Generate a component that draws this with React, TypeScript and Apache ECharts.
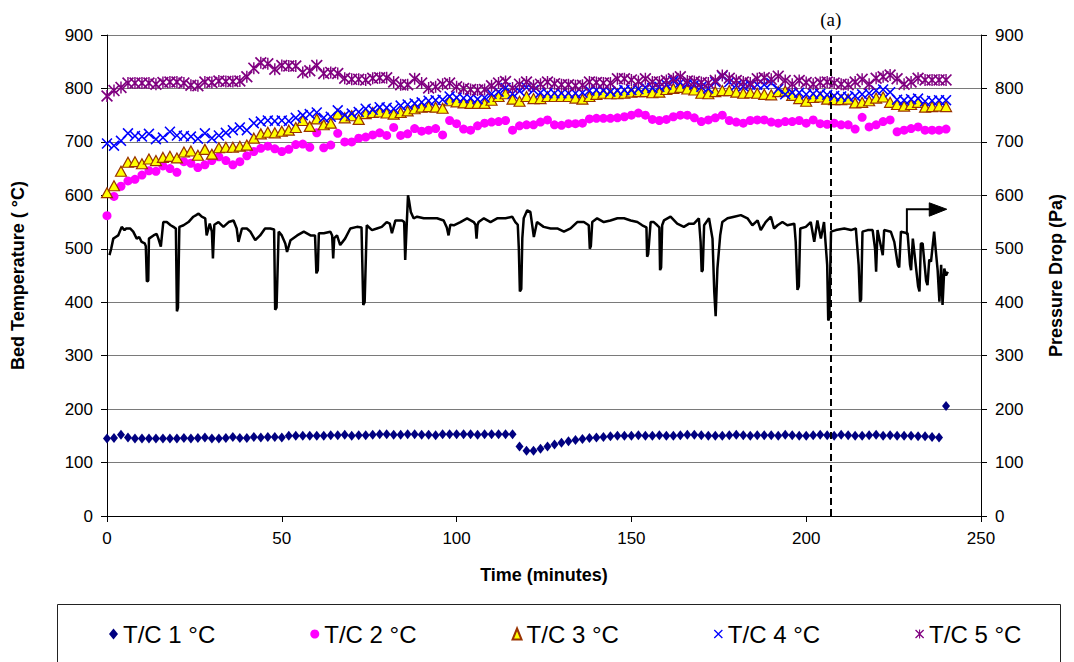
import React, { useEffect, useRef } from "react";
import * as echarts from "echarts";

// Thermocouple readings, logged every 2 minutes (0 … 240 min)
const tcLogIntervalMin = 2;

const tc1 = [
  145, 146, 152, 147, 145, 145, 145, 145, 145, 145,
  145, 146, 145, 146, 147, 145, 145, 146, 148, 146,
  146, 148, 147, 148, 148, 147, 150, 150, 150, 150,
  150, 150, 151, 151, 152, 150, 151, 151, 152, 153,
  153, 152, 152, 153, 153, 152, 152, 151, 153, 153,
  153, 153, 153, 152, 153, 153, 153, 153, 153, 130,
  122, 122, 126, 130, 134, 137, 140, 142, 144, 146,
  147, 148, 149, 150, 150, 150, 151, 150, 150, 151,
  150, 150, 151, 152, 152, 151, 150, 150, 150, 151,
  152, 151, 150, 151, 151, 151, 150, 152, 151, 150,
  150, 151, 152, 151, 150, 152, 151, 150, 150, 151,
  152, 150, 151, 150, 150, 150, 149, 149, 148, 147,
  206,
];

const tc2 = [
  562, 598, 617, 627, 630, 638, 646, 645, 655, 650,
  643, 663, 660, 652, 657, 665, 672, 665, 657, 663,
  674, 682, 688, 692, 687, 682, 686, 695, 696, 690,
  717, 689, 694, 716, 700, 700, 707, 709, 713, 717,
  712, 727, 712, 715, 725, 720, 722, 725, 713, 740,
  734, 724, 722, 730, 735, 737, 738, 740, 722, 730,
  732, 732, 737, 741, 732, 731, 734, 734, 735, 743,
  744, 744, 744, 745, 747, 750, 754, 750, 742, 740,
  742, 747, 750, 750, 745, 738, 741, 745, 750, 740,
  737, 735, 740, 741, 741, 737, 735, 738, 738, 740,
  735, 741, 734, 733, 735, 732, 732, 724, 746, 728,
  732, 738, 741, 719, 722, 725, 728, 722, 722, 722,
  724,
];

const tc3 = [
  605, 618, 645, 662, 663, 659, 668, 665, 671, 673,
  670, 681, 683, 675, 686, 677, 689, 690, 690, 692,
  694, 707, 715, 718, 717, 720, 722, 727, 740, 729,
  743, 732, 735, 752, 745, 749, 742, 753, 755, 756,
  754, 752, 755, 758, 762, 765, 766, 765, 763, 777,
  775, 773, 772, 772, 772, 778, 785, 790, 780, 776,
  785, 781, 781, 785, 785, 785, 785, 782, 780, 785,
  789, 791, 790, 790, 791, 793, 794, 794, 792, 793,
  798, 800, 802, 799, 797, 791, 790, 794, 796, 796,
  793, 791, 792, 791, 789, 788, 794, 795, 787, 781,
  776, 783, 784, 780, 779, 779, 780, 773, 774, 777,
  782, 784, 774, 770, 767, 770, 774, 765, 766, 767,
  766,
];

const tc4 = [
  697, 693, 702, 716, 711, 710, 715, 705, 708, 719,
  712, 711, 710, 706, 716, 707, 712, 717, 722, 727,
  722, 735, 738, 740, 739, 740, 739, 745, 750, 752,
  755, 745, 747, 759, 750, 753, 756, 762, 760, 765,
  764, 762, 768, 770, 772, 774, 777, 778, 779, 785,
  783, 782, 782, 780, 783, 790, 794, 801, 790, 795,
  802, 797, 792, 791, 791, 791, 791, 791, 792, 796,
  797, 796, 794, 796, 797, 797, 799, 802, 801, 803,
  807, 814, 811, 809, 807, 803, 800, 812, 823, 812,
  806, 804, 807, 807, 807, 810, 799, 789, 792, 792,
  789, 790, 790, 788, 786, 785, 784, 786, 789, 791,
  796, 798, 793, 779, 778, 780, 781, 776, 777, 778,
  778,
];

const tc5 = [
  786, 796, 802, 810, 810, 810, 810, 808, 811, 812,
  812, 810, 806, 805, 812, 811, 814, 813, 813, 814,
  822, 838, 848, 846, 836, 843, 842, 842, 830, 833,
  843, 828, 830, 828, 819, 817, 817, 816, 819, 820,
  820, 812, 807, 807, 818, 810, 801, 803, 808, 810,
  803, 800, 798, 797, 798, 805, 810, 813, 801, 808,
  812, 805, 808, 812, 809, 807, 807, 805, 806, 812,
  811, 810, 810, 818, 818, 816, 813, 818, 812, 812,
  815, 818, 822, 814, 813, 811, 810, 815, 824, 819,
  815, 812, 810, 818, 820, 817, 823, 815, 808, 815,
  811, 808, 811, 812, 810, 808, 807, 812, 817, 808,
  819, 822, 825, 818, 808, 812, 819, 816, 816, 816,
  816,
];

// Pressure drop (Pa) vs time (min), right axis
const pressureDrop: [number, number][] = [
  [0.7, 488], [1.2, 500], [1.8, 519], [2.5, 522], [3.2, 525], [4.2, 541], [5.0, 535], [5.5, 538], [6.6, 538], [7.5, 532],
  [8.5, 519], [9.2, 522], [9.9, 513], [10.8, 510], [11.1, 505], [11.4, 439], [11.8, 440], [12.0, 519], [13.3, 525], [14.2, 528],
  [14.7, 519], [15.4, 504], [15.8, 530], [16.1, 550], [17.1, 550], [18.2, 544], [19.0, 541], [19.7, 538], [20.0, 383], [20.3, 390],
  [20.7, 541], [21.9, 544], [23.3, 550], [24.7, 560], [25.5, 563], [26.2, 566], [27.1, 560], [28.1, 557], [28.5, 525], [29.4, 547],
  [30.0, 532], [30.3, 482], [30.7, 545], [31.9, 550], [33.3, 541], [34.8, 550], [36.2, 553], [37.1, 538], [37.6, 513], [38.6, 538],
  [40.0, 538], [41.0, 532], [42.4, 516], [43.8, 525], [45.2, 538], [46.7, 538], [47.8, 536], [48.1, 386], [48.5, 390], [49.1, 532],
  [50.0, 525], [51.0, 510], [51.5, 494], [52.5, 516], [54.4, 525], [56.3, 532], [58.2, 525], [59.5, 525], [59.9, 454], [60.3, 460],
  [60.6, 529], [62.0, 529], [63.9, 532], [64.4, 525], [64.7, 482], [65.0, 520], [65.8, 525], [66.7, 507], [68.1, 519], [69.6, 538],
  [71.5, 541], [72.8, 540], [73.3, 395], [73.7, 400], [74.3, 544], [75.8, 535], [77.2, 538], [78.6, 541], [80.0, 550], [80.9, 547],
  [81.5, 529], [82.5, 553], [83.4, 553], [84.4, 553], [85.0, 550], [85.3, 479], [85.7, 540], [86.1, 600], [86.4, 590], [86.9, 569],
  [87.7, 557], [88.7, 560], [90.6, 557], [92.5, 557], [94.4, 557], [96.3, 553], [97.2, 540], [97.7, 525], [98.2, 545], [99.2, 544],
  [101.1, 550], [103.0, 557], [104.9, 550], [105.4, 545], [105.7, 519], [106.0, 545], [106.3, 550], [107.8, 557], [109.7, 550], [111.6, 557],
  [114.0, 557], [115.9, 560], [116.8, 550], [117.5, 545], [117.8, 500], [118.1, 420], [118.5, 425], [118.8, 520], [119.2, 557], [120.2, 572],
  [121.1, 569], [122.1, 522], [123.0, 550], [124.9, 541], [126.9, 538], [128.8, 538], [130.7, 532], [132.6, 538], [134.5, 550], [136.4, 550],
  [137.8, 544], [138.1, 500], [138.4, 505], [138.8, 550], [140.2, 557], [142.1, 550], [144.0, 553], [146.0, 557], [147.9, 557], [149.8, 553],
  [151.7, 550], [153.1, 544], [154.3, 540], [154.5, 485], [154.8, 490], [155.5, 550], [156.4, 550], [157.4, 544], [158.0, 540], [158.2, 460],
  [158.5, 465], [158.8, 544], [159.3, 553], [161.2, 560], [163.1, 547], [165.0, 541], [166.5, 547], [167.9, 547], [169.3, 557], [169.8, 513],
  [170.1, 457], [170.4, 460], [170.8, 544], [172.2, 557], [173.2, 519], [173.7, 420], [174.1, 374], [174.6, 463], [175.4, 525], [176.0, 550],
  [177.5, 557], [179.4, 560], [181.3, 563], [183.2, 557], [184.6, 544], [186.1, 553], [187.0, 535], [188.4, 550], [189.9, 560], [190.8, 538],
  [191.8, 544], [193.2, 550], [194.6, 544], [196.6, 547], [197.0, 513], [197.5, 423], [197.9, 430], [198.3, 538], [199.9, 541], [201.3, 550],
  [202.3, 513], [203.2, 553], [204.2, 519], [205.1, 550], [206.0, 470], [206.3, 366], [206.6, 370], [207.1, 532], [208.5, 535], [210.9, 538],
  [212.8, 535], [214.2, 538], [215.0, 470], [215.4, 401], [215.7, 405], [216.1, 532], [217.6, 535], [219.0, 535], [219.7, 500], [220.0, 457],
  [220.4, 535], [221.9, 488], [222.3, 535], [224.2, 532], [225.2, 513], [226.2, 470], [226.6, 465], [227.1, 532], [229.0, 529], [229.7, 470],
  [230.0, 460], [230.5, 519], [232.0, 430], [232.4, 420], [232.8, 510], [233.3, 510], [234.3, 440], [234.7, 432], [235.2, 480], [235.7, 476],
  [236.6, 532], [237.1, 494], [237.6, 460], [238.1, 401], [238.6, 470], [239.0, 395], [239.5, 463], [240.0, 450], [240.5, 457],
];

const seriesNames = ["T/C 1 °C", "T/C 2 °C", "T/C 3 °C", "T/C 4 °C", "T/C 5 °C"];
const markerLineTime = 207; // dashed line "(a)"
const markerLineLabel = "(a)";

// Arrow pointing to the right axis (time, Pa)
const arrowShaft: [number, number][] = [[228.8, 526], [228.8, 574], [235.6, 574]];
const arrowHead: [number, number][] = [[235.2, 586], [240.2, 574], [235.2, 561]];

const X_PATH =
  "path://M0,1 L1,0 L5,4 L9,0 L10,1 L6,5 L10,9 L9,10 L5,6 L1,10 L0,9 L4,5 Z";
const STAR_PATH =
  "path://M0,1 L1,0 L5,4 L9,0 L10,1 L6,5 L10,9 L9,10 L5,6 L1,10 L0,9 L4,5 Z M4.4,0 L5.6,0 L5.6,10 L4.4,10 Z";

const FONT = "Arial, 'Liberation Sans', sans-serif";

const toPairs = (vals: number[]) => vals.map((v, i) => [i * tcLogIntervalMin, v]);

export default function App() {
  const ref = useRef<HTMLDivElement>(null);

  useEffect(() => {
    if (!ref.current) return;
    const chart = echarts.init(ref.current, undefined, { renderer: "svg" });

    const axisNameStyle = { fontFamily: FONT, fontWeight: "bold" as const, fontSize: 18, color: "#000" };
    const axisLabelStyle = { fontFamily: FONT, fontSize: 17, color: "#000" };

    chart.setOption({
      animation: false,
      backgroundColor: "#fff",
      grid: { left: 107, right: 93, top: 35, bottom: 146, containLabel: false },
      xAxis: {
        type: "value",
        min: 0,
        max: 250,
        interval: 50,
        name: "Time (minutes)",
        nameLocation: "middle",
        nameGap: 50,
        nameTextStyle: axisNameStyle,
        axisLine: { show: true, onZero: false, lineStyle: { color: "#000", width: 1 } },
        axisTick: { show: true, length: 6, lineStyle: { color: "#000" } },
        axisLabel: { ...axisLabelStyle, margin: 14 },
        splitLine: { show: false },
      },
      yAxis: [
        {
          type: "value",
          position: "left",
          min: 0,
          max: 900,
          interval: 100,
          name: "Bed Temperature ( °C)",
          nameLocation: "middle",
          nameGap: 80,
          nameRotate: 90,
          nameTextStyle: axisNameStyle,
          axisLine: { show: true, lineStyle: { color: "#000", width: 1 } },
          axisTick: { show: true, length: 6, lineStyle: { color: "#000" } },
          axisLabel: { ...axisLabelStyle, margin: 14 },
          splitLine: { show: true, lineStyle: { color: "#7a7a7a", width: 1 } },
        },
        {
          type: "value",
          position: "right",
          min: 0,
          max: 900,
          interval: 100,
          name: "Pressure Drop (Pa)",
          nameLocation: "middle",
          nameGap: 66,
          nameRotate: 90,
          nameTextStyle: axisNameStyle,
          axisLine: { show: true, lineStyle: { color: "#000", width: 1 } },
          axisTick: { show: true, length: 6, lineStyle: { color: "#000" } },
          axisLabel: { ...axisLabelStyle, margin: 14 },
          splitLine: { show: false },
        },
      ],
      legend: {
        left: 104,
        top: 617,
        orient: "horizontal",
        itemWidth: 9,
        itemHeight: 11,
        itemGap: 95,
        selectedMode: false,
        textStyle: { fontFamily: FONT, fontSize: 24, color: "#000" },
        data: [
          { name: seriesNames[0], icon: "diamond" },
          { name: seriesNames[1], icon: "circle" },
          { name: seriesNames[2], icon: "triangle" },
          { name: seriesNames[3], icon: X_PATH },
          { name: seriesNames[4], icon: STAR_PATH },
        ],
      },
      series: [
        {
          name: "Pressure Drop",
          type: "line",
          xAxisIndex: 0,
          yAxisIndex: 1,
          data: pressureDrop,
          showSymbol: false,
          symbol: "none",
          lineStyle: { color: "#000", width: 2.5 },
          z: 1,
        },
        {
          name: seriesNames[0],
          type: "scatter",
          data: toPairs(tc1),
          symbol: "diamond",
          symbolSize: [8, 10],
          itemStyle: { color: "#000080", opacity: 1 },
          z: 2,
        },
        {
          name: seriesNames[1],
          type: "scatter",
          data: toPairs(tc2),
          symbol: "circle",
          symbolSize: 9,
          itemStyle: { color: "#FF00FF", opacity: 1 },
          z: 3,
        },
        {
          name: seriesNames[2],
          type: "scatter",
          data: toPairs(tc3),
          symbol: "triangle",
          symbolSize: [11, 10],
          itemStyle: { color: "#FFFF00", borderColor: "#993300", borderWidth: 1.2, opacity: 1 },
          z: 4,
        },
        {
          name: seriesNames[3],
          type: "scatter",
          data: toPairs(tc4),
          symbol: X_PATH,
          symbolSize: 11,
          itemStyle: { color: "#0000FF", opacity: 1 },
          z: 5,
        },
        {
          name: seriesNames[4],
          type: "scatter",
          data: toPairs(tc5),
          symbol: STAR_PATH,
          symbolSize: 12,
          itemStyle: { color: "#800080", opacity: 1 },
          z: 6,
          markLine: {
            silent: true,
            symbol: ["none", "none"],
            lineStyle: { color: "#000", type: [7, 4], width: 2, opacity: 1 },
            label: {
              show: true,
              position: "end",
              distance: 6,
              formatter: markerLineLabel,
              fontFamily: "'Liberation Serif', 'Times New Roman', serif",
              fontSize: 19,
              color: "#000",
            },
            data: [{ xAxis: markerLineTime }],
          },
        },
      ],
    });

    const px = (p: [number, number]) =>
      chart.convertToPixel({ seriesIndex: 0 }, p) as number[];

    chart.setOption({
      graphic: [
        {
          id: "legendBox",
          type: "rect",
          silent: true,
          shape: { x: 57.5, y: 604.5, width: 1003, height: 80 },
          style: { fill: "none", stroke: "#222", lineWidth: 1 },
        },
        {
          id: "arrowShaft",
          type: "polyline",
          silent: true,
          shape: { points: arrowShaft.map(px) },
          style: { fill: "none", stroke: "#000", lineWidth: 2 },
          z: 20,
        },
        {
          id: "arrowHead",
          type: "polygon",
          silent: true,
          shape: { points: arrowHead.map(px) },
          style: { fill: "#000", stroke: "#000", lineWidth: 1 },
          z: 20,
        },
      ],
    });

    return () => chart.dispose();
  }, []);

  return (
    <div
      ref={ref}
      style={{ position: "fixed", left: 0, top: 0, width: 1074, height: 662, background: "#fff" }}
    />
  );
}
